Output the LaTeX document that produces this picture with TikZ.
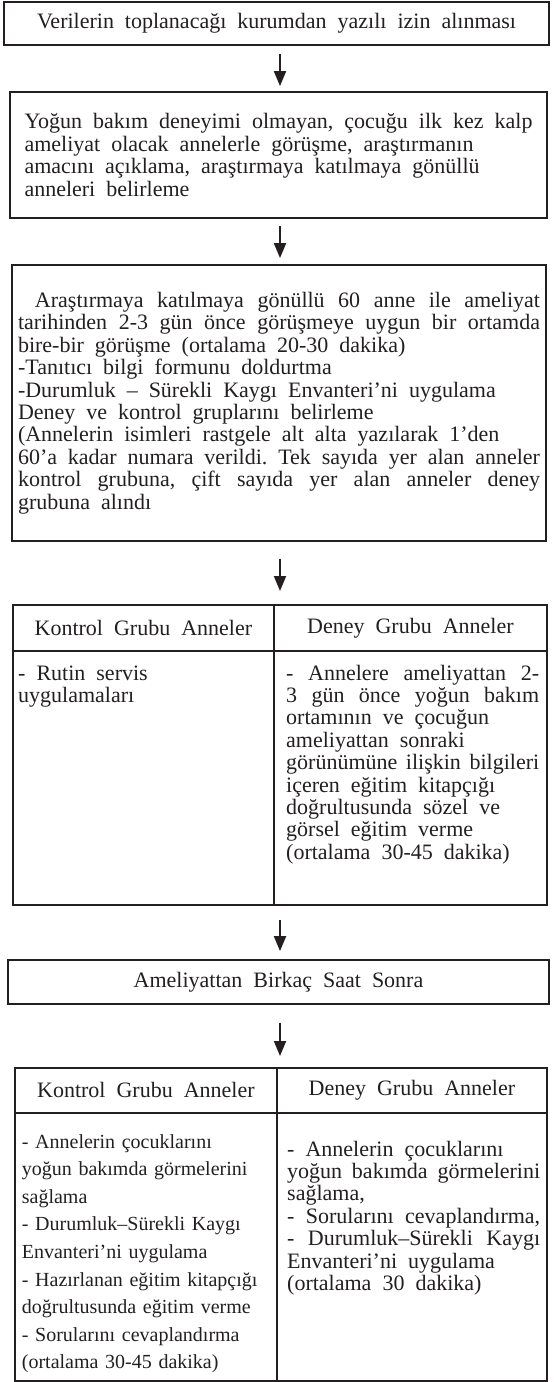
\documentclass[tikz,border=0pt]{standalone}
\usepackage{fontspec}
\setmainfont{Liberation Serif}
\newfontfamily\duzyazi{Liberation Serif}
\usetikzlibrary{arrows.meta}
\definecolor{koyu}{RGB}{35,31,32}
\newcommand{\genisyazi}{\fontsize{22}{22.4}\selectfont\spaceskip=0.5em plus 0.3em minus 0.12em\relax}
\frenchspacing

\begin{document}
\begin{tikzpicture}[x=1pt,y=-1pt]
\tikzset{kutu/.style={draw=koyu, line width=1.8pt, inner sep=0pt, text=koyu, font=\genisyazi},
  hucre/.style={draw=koyu, line width=1.8pt, inner sep=0pt, anchor=north west, text=koyu, font=\genisyazi},
  yazi/.style={inner sep=0pt, anchor=base west, align=justify, text=koyu, font=\genisyazi},
  okcizgi/.style={draw=koyu, line width=1.9pt, -{Triangle[length=15pt,width=12pt]}}}
\useasboundingbox (0,0) rectangle (554,1382);
\coordinate (orta) at (280,0);
\node[kutu, minimum width=545pt, minimum height=43pt] (B1) at (276.5,23.5) {Verilerin toplanacağı kurumdan yazılı izin alınması};
\node[kutu, align=justify, minimum height=126pt, text width=508pt, inner xsep=14.5pt] (B2) at (278.5,155) {Yoğun bakım deneyimi olmayan, çocuğu ilk kez kalp\linebreak
ameliyat olacak annelerle görüşme, araştırmanın\\
amacını açıklama, araştırmaya katılmaya gönüllü\\
anneleri belirleme};
\node[kutu, align=justify, minimum height=276pt, text width=522pt, inner xsep=6pt] (B3) at (279,403) {\hspace*{17pt}Araştırmaya katılmaya gönüllü 60 anne ile ameliyat\linebreak
tarihinden 2-3 gün önce görüşmeye uygun bir ortamda\linebreak
bire-bir görüşme (ortalama 20-30 dakika)\\
-Tanıtıcı bilgi formunu doldurtma\\
-Durumluk – Sürekli Kaygı Envanteri'ni uygulama\\
Deney ve kontrol gruplarını belirleme\\
(Annelerin isimleri rastgele alt alta yazılarak 1'den\\
60'a kadar numara verildi. Tek sayıda yer alan anneler\linebreak
kontrol grubuna, çift sayıda yer alan anneler deney\linebreak
grubuna alındı};
\node[hucre, minimum width=261pt, minimum height=46pt] (K1b) at (12,604) {Kontrol Grubu Anneler};
\node[hucre, minimum width=273pt, minimum height=46pt] (D1b) at (273,604) {Deney Grubu Anneler};
\node[hucre, minimum width=261pt, minimum height=254pt] (K1g) at (12,650) {};
\node[hucre, minimum width=273pt, minimum height=254pt] (D1g) at (273,650) {};
\node[yazi, text width=250pt] (K1y) at (18,680) {- Rutin servis\\ uygulamaları};
\node[yazi, text width=253pt] (D1y) at (286,680) {- Annelere ameliyattan 2-\linebreak
3 gün önce yoğun bakım\linebreak
ortamının ve çocuğun\\
ameliyattan sonraki\\
görünümüne ilişkin bilgileri\linebreak
içeren eğitim kitapçığı\\
doğrultusunda sözel ve\\
görsel eğitim verme\\
(ortalama 30-45 dakika)};
\node[kutu, minimum width=541pt, minimum height=44pt] (B4) at (278.5,982) {Ameliyattan Birkaç Saat Sonra};
\node[hucre, minimum width=262pt, minimum height=45pt] (K2b) at (14,1067) {Kontrol Grubu Anneler};
\node[hucre, minimum width=270pt, minimum height=45pt] (D2b) at (276,1067) {Deney Grubu Anneler};
\node[hucre, minimum width=262pt, minimum height=268pt] (K2g) at (14,1112) {};
\node[hucre, minimum width=270pt, minimum height=268pt] (D2g) at (276,1112) {};
\node[yazi, align=left, text width=250pt, font=\duzyazi\fontsize{20}{27.6}\selectfont] (K2y) at (21.7,1148) {- Annelerin çocuklarını\\
yoğun bakımda görmelerini\\
sağlama\\
- Durumluk–Sürekli Kaygı\\
Envanteri’ni uygulama\\
- Hazırlanan eğitim kitapçığı\\
doğrultusunda eğitim verme\\
- Sorularını cevaplandırma\\
(ortalama 30-45 dakika)};
\node[yazi, text width=253pt] (D2y) at (287,1156) {- Annelerin çocuklarını\\
yoğun bakımda görmelerini\linebreak
sağlama,\\
- Sorularını cevaplandırma,\linebreak
- Durumluk–Sürekli Kaygı\linebreak
Envanteri'ni uygulama\\
(ortalama 30 dakika)};
\draw[okcizgi, shorten <=8pt, shorten >=5pt] (B1.south -| orta) -- (B2.north -| orta);
\draw[okcizgi, shorten <=7pt, shorten >=6pt] (B2.south -| orta) -- (B3.north -| orta);
\draw[okcizgi, shorten <=17pt, shorten >=13pt] (B3.south -| orta) -- (K1b.north -| orta);
\draw[okcizgi, shorten <=14pt, shorten >=8pt] (K1g.south -| orta) -- (B4.north -| orta);
\draw[okcizgi, shorten <=18pt, shorten >=11pt] (B4.south -| orta) -- (K2b.north -| orta);
\end{tikzpicture}
\end{document}
